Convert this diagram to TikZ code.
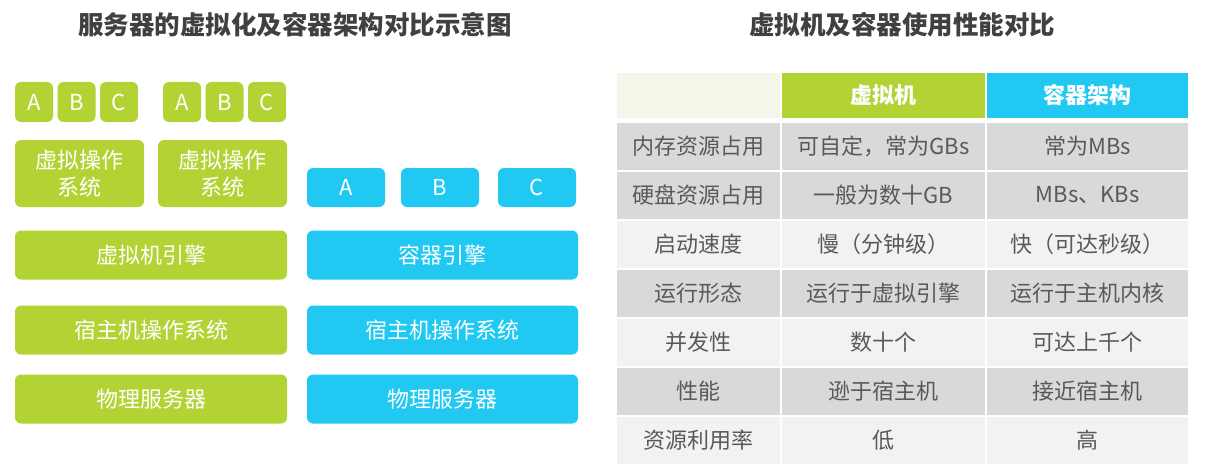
\documentclass[tikz,border=0pt]{standalone}
\usepackage{fontspec}
\setmainfont{Noto Sans CJK SC}
\usepackage{xcolor}
\usepackage{tikz}
\usetikzlibrary{positioning}
\definecolor{vmgreen}{HTML}{B3D335}
\definecolor{ctblue}{HTML}{21C9F2}
\definecolor{titlegray}{HTML}{404040}
\definecolor{textgray}{HTML}{595959}
\definecolor{rowdark}{HTML}{D9D9D9}
\definecolor{rowlight}{HTML}{F2F2F2}
\definecolor{corner}{HTML}{F3F6E9}

\begin{document}
\begin{tikzpicture}[
  x=1pt, y=-1pt,
  title/.style={font=\fontsize{25.5}{30}\selectfont\bfseries, text=titlegray},
  block/.style={rectangle, rounded corners=6pt, inner sep=0pt, text=white, font=\fontsize{22}{27}\selectfont, align=center},
  vm/.style={block, fill=vmgreen},
  ct/.style={block, fill=ctblue},
  app/.style={minimum width=38pt, minimum height=40pt},
  cell/.style={rectangle, inner sep=0pt, minimum height=47pt, text=textgray, font=\fontsize{22}{26}\selectfont},
  head/.style={cell, minimum height=45pt, text=white, font=\fontsize{22}{26}\selectfont\bfseries},
  c1/.style={minimum width=163pt},
  c2/.style={minimum width=203pt},
  c3/.style={minimum width=201pt},
]
\useasboundingbox (0,0) rectangle (1206,468);

\node[title] (t1) at (295,25) {服务器的虚拟化及容器架构对比示意图};
\node[title] (t2) at (902,25) {虚拟机及容器使用性能对比};

\node[vm, app] (g1a) at (34,102) {A};
\node[vm, app] (g1b) at (76.5,102) {B};
\node[vm, app] (g1c) at (119,102) {C};
\node[vm, app] (g2a) at (182,102) {A};
\node[vm, app] (g2b) at (224.5,102) {B};
\node[vm, app] (g2c) at (267,102) {C};
\node[vm, minimum width=129pt, minimum height=67pt] (gos1) at (79.5,173.5) {虚拟操作\\系统};
\node[vm, minimum width=129pt, minimum height=67pt] (gos2) at (222.5,173.5) {虚拟操作\\系统};
\node[vm, minimum width=272pt, minimum height=49pt] (vmeng) at (151,255) {虚拟机引擎};
\node[vm, minimum width=272pt, minimum height=49pt] (vmhost) at (151,330) {宿主机操作系统};
\node[vm, minimum width=272pt, minimum height=49pt] (vmhw) at (151,399) {物理服务器};

\node[ct, minimum width=78pt, minimum height=39pt] (ca) at (346,187.5) {A};
\node[ct, minimum width=78pt, minimum height=39pt] (cb) at (440,187.5) {B};
\node[ct, minimum width=78pt, minimum height=39pt] (cc) at (537,187.5) {C};
\node[ct, minimum width=271pt, minimum height=49pt] (cteng) at (442.5,255) {容器引擎};
\node[ct, minimum width=271pt, minimum height=49pt] (cthost) at (442.5,330) {宿主机操作系统};
\node[ct, minimum width=271pt, minimum height=49pt] (cthw) at (442.5,399) {物理服务器};

\node[head, c1, fill=corner] (h0) at (698.5,95.5) {};
\node[head, c2, fill=vmgreen] (h1) at (883.5,95.5) {虚拟机};
\node[head, c3, fill=ctblue] (h2) at (1087.5,95.5) {容器架构};

\node[cell, c1, fill=rowdark] (r1a) at (698.5,146) {内存资源占用};
\node[cell, c2, fill=rowdark] (r1b) at (883.5,146) {可自定，常为GBs};
\node[cell, c3, fill=rowdark] (r1c) at (1087.5,146) {常为MBs};
\node[cell, c1, fill=rowdark] (r2a) at (698.5,195) {硬盘资源占用};
\node[cell, c2, fill=rowdark] (r2b) at (883.5,195) {一般为数十GB};
\node[cell, c3, fill=rowdark] (r2c) at (1087.5,195) {MBs、KBs};
\node[cell, c1, fill=rowlight] (r3a) at (698.5,244) {启动速度};
\node[cell, c2, fill=rowlight] (r3b) at (883.5,244) {慢（分钟级）};
\node[cell, c3, fill=rowlight] (r3c) at (1087.5,244) {快（可达秒级）};
\node[cell, c1, fill=rowdark] (r4a) at (698.5,293) {运行形态};
\node[cell, c2, fill=rowdark] (r4b) at (883.5,293) {运行于虚拟引擎};
\node[cell, c3, fill=rowdark] (r4c) at (1087.5,293) {运行于主机内核};
\node[cell, c1, fill=rowlight] (r5a) at (698.5,342) {并发性};
\node[cell, c2, fill=rowlight] (r5b) at (883.5,342) {数十个};
\node[cell, c3, fill=rowlight] (r5c) at (1087.5,342) {可达上千个};
\node[cell, c1, fill=rowdark] (r6a) at (698.5,391) {性能};
\node[cell, c2, fill=rowdark] (r6b) at (883.5,391) {逊于宿主机};
\node[cell, c3, fill=rowdark] (r6c) at (1087.5,391) {接近宿主机};
\node[cell, c1, fill=rowlight] (r7a) at (698.5,440) {资源利用率};
\node[cell, c2, fill=rowlight] (r7b) at (883.5,440) {低};
\node[cell, c3, fill=rowlight] (r7c) at (1087.5,440) {高};
\end{tikzpicture}
\end{document}
